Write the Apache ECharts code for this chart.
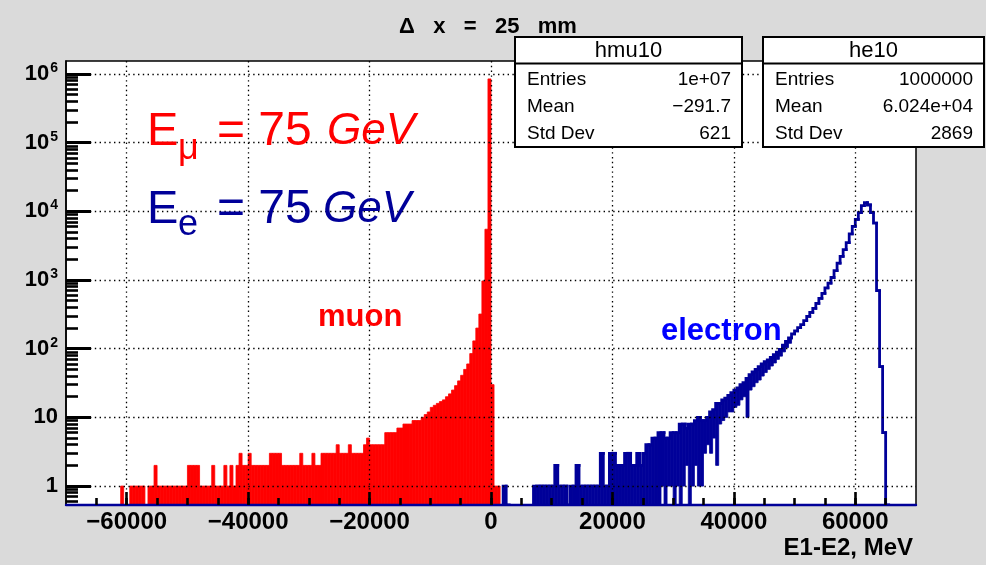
<!DOCTYPE html>
<html><head><meta charset="utf-8">
<script src="https://cdn.jsdelivr.net/npm/echarts@6/dist/echarts.min.js"></script>
<style>html,body{margin:0;padding:0;background:#dadada}#c{width:986px;height:565px}</style>
</head><body><div id="c"></div>
<script>
// ---- data (bin contents, 500 MeV bins) ----
const binWidth = 500;
const muonStart = -62500;
const muonCounts = [
 0,0,0,1,0,0,1,1,1,1, 1,0,1,1,2,1,1,1,1,1,
 1,1,1,1,1,2,2,2,2,1, 1,1,1,2,1,1,1,2,1,2,
 1,2,3,2,2,3,2,2,2,2, 2,2,3,3,3,3,2,2,2,2,
 2,2,3,2,2,2,3,2,2,3, 3,3,3,3,4,3,3,3,4,3,
 3,3,3,4,5,4,4,4,4,4, 6,6,6,6,7,7,8,8,8,9,
 9,9,10,11,12,14,15,16,17,18, 20,22,25,29,34,41,50,60,85,130,
 200,320,970,5500,850000,30,1,1
];
const electronStart = 2000;
const electronMax = [
 1,0,0,0,0,0,0,0,0,0, 1,1,1,1,1,1,1,2,1,1,
 1,0,1,1,2,1,1,1,1,1, 1,1,3,1,1,3,3,2,2,2,
 3,3,2,2,3,2,3,4,4,5, 5,6,6,5,5,6,6,6,8,8,
 7,8,8,9,10,9,9,10,12,13, 16,16,18,19,21,23,25,27,30,32,
 37,42,46,50,55,60,65,69,75,82, 89,98,113,128,144,165,182,203,225,257,
 295,338,387,458,540,638,770,900,1090,1370, 1760,2210,2770,3500,4700,6050,7650,9600,12100,13400,
 12400,9600,6750,700,55,6,0,0
];
const electronMin = [
 0,0,0,0,0,0,0,0,0,0, 0,0,0,0,0,0,0,0,0,0,
 0,0,0,0,0,0,0,0,0,0, 0,0,0,0,0,0,0,0,0,0,
 0,0,0,0,0,0,0,0,0,0, 0,0,1,0,1,1,0,1,0,1,
 2,0,1,2,1,1,3,4,3,5, 2,8,9,10,12,12,14,15,18,20,
 10,25,28,32,35,40,45,50,56,62, 70,78,90,104,120,165,182,203,225,257,
 295,338,387,458,540,638,770,900,1090,1370, 1760,2210,2770,3500,4700,6050,7650,9600,12100,13400,
 12400,9600,6750,700,55,6,0,0
];
const xLabelValues = [-60000,-40000,-20000,0,20000,40000,60000];
const yLabelValues = [1,10,100,1000,10000,100000,1000000];
const statMu = {title:'hmu10', rows:[['Entries','1e+07'],['Mean','\u2212291.7'],['Std Dev','621']]};
const statE  = {title:'he10',  rows:[['Entries','1000000'],['Mean','6.024e+04'],['Std Dev','2869']]};

// minor tick positions
const xMinorTicks = [];
for (let v = -65000; v <= 65000; v += 5000) xMinorTicks.push(v);
const yMinorTicks = [0.6,0.7,0.8,0.9];
for (let e = 0; e < 6; e++) for (let m = 2; m <= 9; m++) yMinorTicks.push(m * Math.pow(10, e));

const muonData = muonCounts.map((c, i) => [muonStart + i * binWidth, muonStart + (i + 1) * binWidth, c]);
const electronData = electronMax.map((c, i) => [electronStart + i * binWidth, electronStart + (i + 1) * binWidth, c, electronMin[i], i > 0 ? electronMax[i - 1] : 0]);

const FONT = 'Liberation Sans, Arial, Helvetica, sans-serif';
const NAVY = '#000099';

const chart = echarts.init(document.getElementById('c'), null, {renderer: 'canvas'});

function yPix(api, params, v) {
  if (!(v > 0)) return params.coordSys.y + params.coordSys.height;
  return api.coord([0, v])[1];
}

const dotted = {type: [1.4, 3.4], color: '#000', width: 1.3};

function statBox(x, w, s) {
  const els = [];
  els.push({type: 'rect', shape: {x: x, y: 37, width: w, height: 110}, style: {fill: '#fff', stroke: '#000', lineWidth: 2}, z: 100});
  els.push({type: 'line', shape: {x1: x, y1: 63.5, x2: x + w, y2: 63.5}, style: {stroke: '#000', lineWidth: 2}, z: 101});
  els.push({type: 'text', x: x + w / 2, y: 51, style: {text: s.title, fontSize: 22, fontFamily: FONT, fill: '#000', align: 'center', verticalAlign: 'middle'}, z: 102});
  s.rows.forEach((r, i) => {
    const yy = 80 + i * 27;
    els.push({type: 'text', x: x + 12, y: yy, style: {text: r[0], fontSize: 19, fontFamily: FONT, fill: '#000', align: 'left', verticalAlign: 'middle'}, z: 102});
    els.push({type: 'text', x: x + w - 11, y: yy, style: {text: r[1], fontSize: 19, fontFamily: FONT, fill: '#000', align: 'right', verticalAlign: 'middle'}, z: 102});
  });
  return els;
}

function txt(x, y, text, size, color, extra) {
  return Object.assign({type: 'text', x: x, y: y, z: 110,
    style: Object.assign({text: text, fontSize: size, fontFamily: FONT, fill: color, align: 'left', verticalAlign: 'middle'}, extra || {})});
}

const option = {
  backgroundColor: '#dadada',
  animation: false,
  grid: {left: 66, top: 61, right: 70, bottom: 60, show: true, backgroundColor: '#fff', borderColor: '#000', borderWidth: 1.5, containLabel: false, outerBoundsMode: 'none'},
  xAxis: [{
    type: 'value', min: -70000, max: 70000, splitNumber: 7, position: 'bottom', z: 5,
    axisLine: {show: true, onZero: false, lineStyle: {color: NAVY, width: 2.4}},
    axisTick: {show: true, inside: true, length: 7, customValues: xMinorTicks, lineStyle: {color: '#000', width: 2.6}},
    axisLabel: {customValues: xLabelValues, margin: 5, fontSize: 24, fontWeight: 'bold', fontFamily: FONT, color: '#000',
      formatter: v => v < 0 ? '\u2212' + Math.abs(v) : String(v)},
    splitLine: {show: false}
  }, {
    type: 'value', min: -70000, max: 70000, splitNumber: 7, position: 'bottom', z: 5,
    axisLine: {show: false, onZero: false},
    axisTick: {show: true, inside: true, length: 13, customValues: xLabelValues, lineStyle: {color: '#000', width: 2.6}},
    axisLabel: {show: false}, splitLine: {show: true, lineStyle: dotted}
  }],
  yAxis: [{
    type: 'log', logBase: 10, min: 0.53, max: 1.55e6, position: 'left', z: 5,
    axisLine: {show: true, onZero: false, lineStyle: {color: '#000', width: 1.5}},
    axisTick: {show: true, inside: true, length: 12, customValues: yMinorTicks, lineStyle: {color: '#000', width: 2.6}},
    axisLabel: {customValues: yLabelValues, margin: 8, color: '#000',
      formatter: v => { const e = Math.round(Math.log10(v)); if (e === 0) return '{b|1}'; if (e === 1) return '{b|10}'; return '{b|10}{s|' + e + '}'; },
      rich: {b: {fontSize: 22, fontWeight: 'bold', fontFamily: FONT, color: '#000', lineHeight: 26},
             s: {fontSize: 14, fontWeight: 'bold', fontFamily: FONT, color: '#000', verticalAlign: 'top', lineHeight: 14, padding: [0, 0, 0, 1]}}},
    splitLine: {show: false}
  }, {
    type: 'log', logBase: 10, min: 0.53, max: 1.55e6, position: 'left', offset: 0, z: 5,
    axisLine: {show: false, onZero: false},
    axisTick: {show: true, inside: true, length: 25, customValues: yLabelValues, lineStyle: {color: '#000', width: 3}},
    axisLabel: {show: false}, splitLine: {show: true, lineStyle: dotted}
  }],
  series: [{
    type: 'custom', name: 'hmu10', xAxisIndex: 0, yAxisIndex: 0, clip: true, z: 2,
    data: muonData, encode: {x: [0, 1], y: 2},
    renderItem: (params, api) => {
      const c = api.value(2);
      if (!(c > 0)) return null;
      const a = api.coord([api.value(0), c]);
      const b = api.coord([api.value(1), c]);
      const bottom = params.coordSys.y + params.coordSys.height;
      return {type: 'rect', shape: {x: a[0], y: a[1], width: b[0] - a[0], height: bottom - a[1]},
        style: {fill: '#ff0000', stroke: '#ff0000', lineWidth: 0.8}};
    }
  }, {
    type: 'custom', name: 'he10 spread', xAxisIndex: 0, yAxisIndex: 0, clip: true, z: 3,
    data: electronData, encode: {x: [0, 1], y: [2, 3]},
    renderItem: (params, api) => {
      const lo = api.value(0), hi = api.value(1), mx = api.value(2), mn = api.value(3);
      if (!(mx > 0) || !(mn < mx)) return null;
      const xl = api.coord([lo, 1])[0], xh = api.coord([hi, 1])[0];
      const yMax = yPix(api, params, mx), yMin = yPix(api, params, mn);
      return {type: 'rect', shape: {x: xl, y: yMax, width: xh - xl, height: yMin - yMax},
        style: {fill: NAVY, stroke: NAVY, lineWidth: 0.8}};
    }
  }, {
    type: 'custom', name: 'he10', xAxisIndex: 0, yAxisIndex: 0, clip: true, z: 4,
    data: electronData, encode: {x: [0, 1], y: [2, 3]},
    renderItem: (params, api) => {
      const lo = api.value(0), hi = api.value(1), mx = api.value(2), pv = api.value(4);
      if (!(mx > 0) && !(pv > 0)) return null;
      const xl = api.coord([lo, 1])[0], xh = api.coord([hi, 1])[0];
      const yMax = yPix(api, params, mx), yPrev = yPix(api, params, pv);
      return {type: 'polyline', shape: {points: [[xl, yPrev], [xl, yMax], [xh, yMax]]},
        style: {stroke: NAVY, lineWidth: 2.8, fill: null, lineCap: 'square', lineJoin: 'miter'}};
    }
  }],
  graphic: {elements: [].concat(
    statBox(515, 227, statMu),
    statBox(763, 221, statE),
    [
      {type: 'text', x: 488, y: 27, z: 110, style: {text: '\u0394   x   =   25   mm', fontSize: 22, fontWeight: 'bold', fontFamily: FONT, fill: '#000', align: 'center', verticalAlign: 'middle'}},
      {type: 'text', x: 913, y: 548, z: 110, style: {text: 'E1-E2, MeV', fontSize: 24, fontWeight: 'bold', fontFamily: FONT, fill: '#000', align: 'right', verticalAlign: 'middle'}},
      txt(318, 317, 'muon', 31, '#ff0000', {fontWeight: 'bold'}),
      txt(661, 331, 'electron', 31, '#0000ff', {fontWeight: 'bold'}),
      txt(147, 132, 'E', 47, '#ff0000'),
      txt(178, 149, '\u03bc', 36, '#ff0000'),
      txt(217, 132, '= 75', 48, '#ff0000'),
      txt(327, 132, 'GeV', 44, '#ff0000', {fontStyle: 'italic'}),
      txt(147, 210, 'E', 47, NAVY),
      txt(178, 225, 'e', 36, NAVY),
      txt(217, 210, '= 75', 48, NAVY),
      txt(323, 210, 'GeV', 44, NAVY, {fontStyle: 'italic'})
    ]
  )}
};
chart.setOption(option);
</script></body></html>
